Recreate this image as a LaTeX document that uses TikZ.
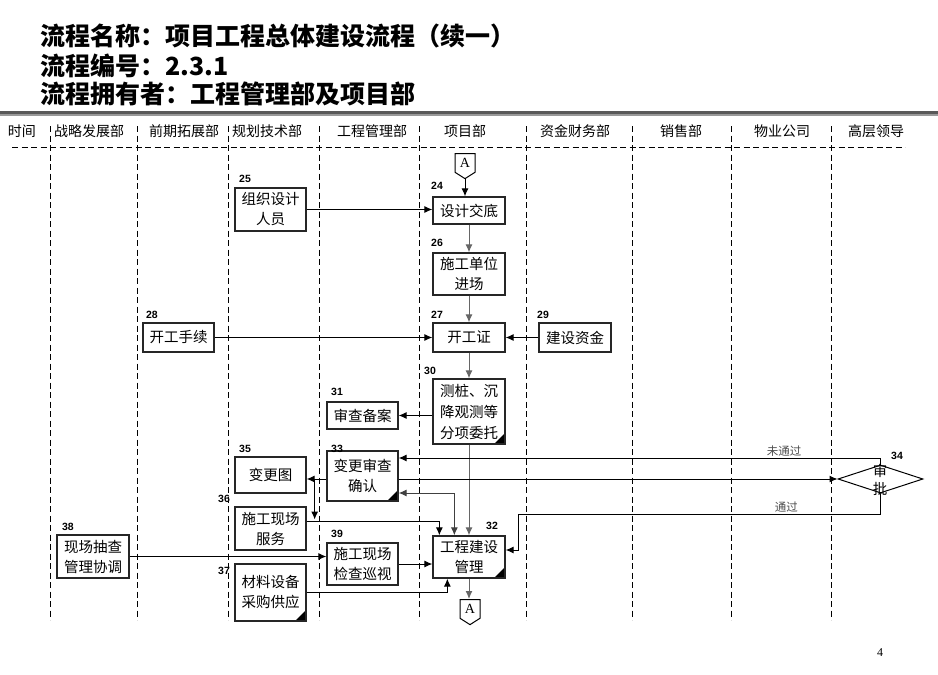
\documentclass[tikz,border=0pt]{standalone}
\usepackage{fontspec}
\setmainfont{Liberation Sans}
\newfontfamily\cjk{Noto Sans CJK SC}
\newfontfamily\serifA{Liberation Serif}
\usetikzlibrary{arrows.meta,shapes.geometric,shapes.symbols,calc}

\begin{document}
\begin{tikzpicture}[x=1pt,y=-1pt,
        box/.style={draw,line width=1.3pt,draw=black!85,minimum width=71pt,inner sep=0pt,align=center,font=\cjk\fontsize{14.5}{20}\selectfont},
        doc/.style={path picture={\fill (path picture bounding box.south east) -- ++(-11pt,0pt) -- ++(11pt,11pt) -- cycle;}},
        num/.style={inner sep=0pt,font=\fontsize{10.5}{12}\selectfont\bfseries},
        head/.style={inner sep=0pt,font=\cjk\fontsize{14}{16}\selectfont},
        lane/.style={line width=1pt,dash pattern=on 6pt off 3.5pt},
        flow/.style={-{Latex[length=8pt,width=7pt]},line width=1pt},
        vflow/.style={flow,draw=black!60},
        lbl/.style={inner sep=1pt,text=black!70,font=\cjk\fontsize{11.5}{13}\selectfont},
        offpage/.style={draw,line width=1pt,shape=signal,signal to=south,signal pointer angle=115,minimum width=20pt,minimum height=22pt,inner sep=0pt,font=\serifA\fontsize{14}{15}\selectfont}]
        \useasboundingbox (0,0) rectangle (938,675);

        \node[anchor=west,inner sep=0pt,font=\cjk\bfseries\fontsize{25}{27}\selectfont] (title1) at (40,36) {流程名称：项目工程总体建设流程（续一）};
        \node[anchor=west,inner sep=0pt,font=\cjk\bfseries\fontsize{25}{27}\selectfont] (title2) at (40,66) {流程编号：2.3.1};
        \node[anchor=west,inner sep=0pt,font=\cjk\bfseries\fontsize{25}{27}\selectfont] (title3) at (40,94) {流程拥有者：工程管理部及项目部};
        \fill[black!65] (0,111) rectangle (938,113.5);
        \fill[black!40] (0,113.5) rectangle (938,115.5);

        \node[head] (h1) at (22,131) {时间};
        \node[head] (h2) at (89,131) {战略发展部};
        \node[head] (h3) at (184,131) {前期拓展部};
        \node[head] (h4) at (267,131) {规划技术部};
        \node[head] (h5) at (372,131) {工程管理部};
        \node[head] (h6) at (465,131) {项目部};
        \node[head] (h7) at (575,131) {资金财务部};
        \node[head] (h8) at (681,131) {销售部};
        \node[head] (h9) at (782,131) {物业公司};
        \node[head] (h10) at (876,131) {高层领导};

        \draw[lane] (12,147) -- (905,147);
        \draw[lane] (50,126) -- (50,620);
        \draw[lane] (137,126) -- (137,620);
        \draw[lane] (228,126) -- (228,620);
        \draw[lane] (319,126) -- (319,620);
        \draw[lane] (419,126) -- (419,620);
        \draw[lane] (526,126) -- (526,620);
        \draw[lane] (632,126) -- (632,620);
        \draw[lane] (731,126) -- (731,620);
        \draw[lane] (831,126) -- (831,620);

        \node[offpage,anchor=north] (atop) at (465,153) {A};
        \node[box,minimum width=72pt,minimum height=27pt] (n24) at (469,210.5) {设计交底};
        \node[box,minimum height=43pt] (n25) at (270.5,209.5) {组织设计\\人员};
        \node[box,minimum width=72pt,minimum height=42pt] (n26) at (469,274) {施工单位\\进场};
        \node[box,minimum width=72pt,minimum height=29pt] (n27) at (469,337.5) {开工证};
        \node[box,minimum height=29pt] (n28) at (178.5,337.5) {开工手续};
        \node[box,minimum width=72pt,minimum height=29pt] (n29) at (575,337.5) {建设资金};
        \node[box,doc,minimum width=72pt,minimum height=65pt,font=\cjk\fontsize{14.5}{21}\selectfont] (n30) at (469,411.5) {测桩、沉\\降观测等\\分项委托};
        \node[box,minimum height=27pt] (n31) at (362.5,415.5) {审查备案};
        \node[box,doc,minimum width=72pt,minimum height=42pt] (n32) at (469,557) {工程建设\\管理};
        \node[box,doc,minimum height=50pt] (n33) at (362.5,476) {变更审查\\确认};
        \node[draw,diamond,line width=1pt,minimum width=85pt,minimum height=28pt,inner sep=0pt] (d34) at (880.5,479) {};
        \node[inner sep=0pt,align=center,font=\cjk\fontsize{14.5}{18}\selectfont] (t34) at (880,480) {审\\批};
        \node[box,minimum height=36pt] (n35) at (270.5,475) {变更图};
        \node[box,minimum height=43pt] (n36) at (270.5,528.5) {施工现场\\服务};
        \node[box,doc,minimum height=57pt] (n37) at (270.5,592.5) {材料设备\\采购供应};
        \node[box,minimum width=72pt,minimum height=43pt] (n38) at (93,556.5) {现场抽查\\管理协调};
        \node[box,minimum height=42pt] (n39) at (362.5,564) {施工现场\\检查巡视};
        \node[offpage,anchor=north] (abot) at (470,599) {A};

        \node[num] (l24) at (437,186) {24};
        \node[num] (l25) at (245,179) {25};
        \node[num] (l26) at (437,243) {26};
        \node[num] (l27) at (437,315) {27};
        \node[num] (l28) at (152,315) {28};
        \node[num] (l29) at (543,315) {29};
        \node[num] (l30) at (430,371) {30};
        \node[num] (l31) at (337,392) {31};
        \node[num] (l32) at (492,526) {32};
        \node[num] (l33) at (337,449) {33};
        \node[num] (l34) at (897,456) {34};
        \node[num] (l35) at (245,449) {35};
        \node[num] (l36) at (224,499) {36};
        \node[num] (l37) at (224,571) {37};
        \node[num] (l38) at (68,527) {38};
        \node[num] (l39) at (337,534) {39};

        \coordinate (p33w) at ($(n33.west)+(0,3)$);
        \coordinate (p36) at ($(n36.east)+(8,-9)$);
        \coordinate (q32) at ($(n32.east)+(13,-43)$);

        \draw[flow] (atop.south) -- (atop.south |- n24.north);
        \draw[flow] (n25.east) -- (n25.east -| n24.west);
        \draw[vflow] (n24) -- (n26);
        \draw[vflow] (n26) -- (n27);
        \draw[flow] (n28) -- (n27);
        \draw[flow] (n29) -- (n27);
        \draw[vflow] (n27) -- (n30);
        \draw[flow] (n31.east -| n30.west) -- (n31.east);
        \draw[vflow] (n30) -- (n32);
        \draw[flow] (p33w) -- (p33w -| n35.east);
        \draw[flow] (p33w -| p36) -- (p36);
        \draw[flow] ($(n36.east)+(0,-7)$) -| ($(n32.north west)+(7,0)$);
        \draw[{Latex[length=8pt,width=7pt]}-{Latex[length=8pt,width=7pt]},line width=1pt,draw=black!75] ($(n33.east)+(0,17)$) -| ($(n32.north west)+(22,0)$);
        \draw[flow] ($(n33.east)+(0,3)$) -- (d34.west);
        \draw[flow] (d34.north) |- node[lbl,pos=0.6,above] {未通过} ($(n33.east)+(0,-18)$);
        \draw[flow] (d34.south) |- node[lbl,pos=0.63,above] {通过} (q32) |- ($(n32.east)+(0,-7)$);
        \draw[flow] (n38.east) -- (n38.east -| n39.west);
        \draw[flow] (n39.east) -- (n39.east -| n32.west);
        \draw[flow] (n37.east) -| ($(n32.south west)+(15,0)$);
        \draw[vflow] (n32.south) -- (n32.south |- abot.north);

        \node[font=\serifA\fontsize{12}{14}\selectfont] (page) at (880,653) {4};
\end{tikzpicture}
\end{document}
